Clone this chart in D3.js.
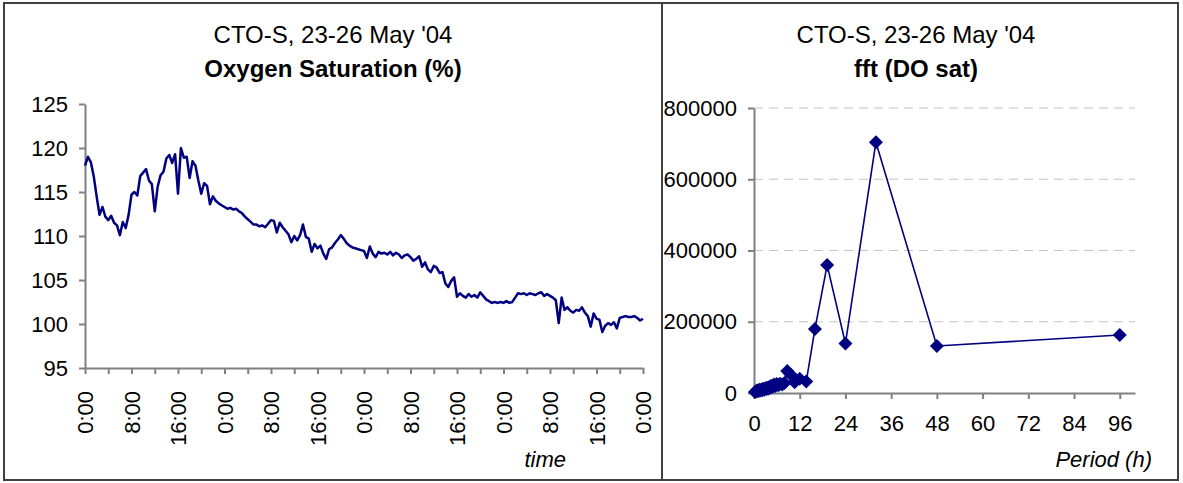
<!DOCTYPE html>
<html>
<head>
<meta charset="utf-8">
<title>CTO-S Oxygen Saturation</title>
<script src="https://d3js.org/d3.v7.min.js"></script>
<style>
  body { margin: 0; background: #fff; }
  svg { display: block; font-family: "Liberation Sans", Arial, sans-serif; }
  .axis path, .axis line { stroke: #808080; stroke-width: 2; }
  .axis text { fill: #000; font-size: 22px; font-family: "Liberation Sans", Arial, sans-serif; }
</style>
</head>
<body>
<svg width="1183" height="483"></svg>
<script>
// ---- data: left chart (DO saturation every 0.5 h over 96 h) ----
var timeStepH = 0.5;
var doSat = [
  118.0,119.0,118.4,116.8,114.5,112.4,113.3,112.2,111.8,112.3,
  111.5,111.2,110.1,111.6,110.9,112.4,114.7,115.0,114.6,116.8,
  117.2,117.6,116.3,115.9,112.8,115.6,116.9,117.3,118.8,119.2,
  118.3,119.3,114.8,120.0,118.9,119.0,116.6,118.5,118.0,116.3,
  114.8,116.0,115.7,113.6,114.5,114.0,113.7,113.5,113.3,113.1,
  113.2,113.0,113.1,112.8,112.6,112.2,111.9,111.6,111.3,111.3,
  111.1,111.2,111.0,111.4,111.8,111.7,110.4,111.5,111.0,110.6,
  110.2,109.3,110.0,109.5,110.1,111.3,109.9,109.7,108.2,109.1,
  108.6,108.9,108.0,107.4,108.5,108.7,109.2,109.6,110.1,109.7,
  109.2,108.9,108.7,108.6,108.5,108.4,108.3,107.5,108.8,108.0,
  107.6,108.2,108.0,108.1,107.9,108.2,107.8,108.1,107.9,107.5,
  107.8,107.9,107.6,107.2,107.4,107.7,106.5,107.0,106.2,105.9,
  106.6,106.4,105.8,105.9,104.6,104.2,104.9,105.3,103.1,103.5,
  103.2,103.0,103.4,103.1,103.3,103.0,103.6,103.2,102.8,102.6,
  102.4,102.5,102.4,102.5,102.4,102.6,102.4,102.5,103.0,103.5,
  103.4,103.5,103.3,103.5,103.4,103.3,103.5,103.6,103.2,103.4,
  103.2,103.0,102.7,100.1,103.0,101.6,101.9,101.5,101.3,101.6,
  101.5,101.9,101.3,100.9,99.7,101.2,100.6,100.5,99.1,99.8,
  100.1,99.9,100.2,99.5,100.7,100.8,100.9,100.8,100.8,100.9,
  100.7,100.4,100.6
];
var yTicksLeft = [95, 100, 105, 110, 115, 120, 125];
var xTicksLeft = [0,4,8,12,16,20,24,28,32,36,40,44,48,52,56,60,64,68,72,76,80,84,88,92,96];
var xTickLabelsLeft = ["0:00","8:00","16:00","0:00","8:00","16:00","0:00","8:00","16:00","0:00","8:00","16:00","0:00"];

// ---- data: right chart (fft of DO sat) ----
var periods = [96,48,32,24,19.2,16,13.71,12,10.67,9.6,8.73,8,7.38,6.86,6.4,6,5.65,5.33,5.05,4.8,
               4.57,4.36,4.17,4,3.69,3.43,3.2,3,2.67,2.4,2.18,2,1.71,1.5,1.33,1.2,1,0.75,0.5,0.25];
var fftVals = [163000,132000,704000,139000,359000,180000,32000,40000,30000,52000,62000,28000,24000,26000,22000,25000,20000,24000,18000,21000,
               16000,19000,14000,17000,12000,15000,11000,13000,9000,12000,8000,10000,7000,9000,6000,8000,5000,7000,4000,3000];
var yTicksRight = [0, 200000, 400000, 600000, 800000];
var xTicksRight = [0, 12, 24, 36, 48, 60, 72, 84, 96];

var navy = "#000080";
var svg = d3.select("svg");

// ================= right panel =================
svg.append("clipPath").attr("id", "clipR")
  .append("rect").attr("x", 663).attr("y", 0).attr("width", 520).attr("height", 483);
var gR = svg.append("g").attr("clip-path", "url(#clipR)");

var xR = d3.scaleLinear().domain([0, 100]).range([754, 1135]);
var yR = d3.scaleLinear().domain([0, 800000]).range([393, 108]);

gR.append("g").selectAll("line")
  .data(yTicksRight.filter(d => d > 0))
  .enter().append("line")
  .attr("x1", xR(0)).attr("x2", xR(100))
  .attr("y1", d => yR(d)).attr("y2", d => yR(d))
  .attr("stroke", "#c4c4c4").attr("stroke-width", 1.2)
  .attr("stroke-dasharray", "9,6");

gR.append("g").attr("class", "axis")
  .attr("transform", "translate(" + xR(0) + ",0)")
  .call(d3.axisLeft(yR).tickValues(yTicksRight).tickFormat(d3.format("d")).tickSize(6).tickPadding(11).tickSizeOuter(0));

gR.append("g").attr("class", "axis")
  .attr("transform", "translate(0," + yR(0) + ")")
  .call(d3.axisBottom(xR).tickValues(xTicksRight).tickSize(6).tickPadding(16).tickSizeOuter(0));

var fft = periods.map((p, i) => ({p: p, v: fftVals[i]}));
gR.append("path")
  .datum(fft)
  .attr("fill", "none").attr("stroke", navy).attr("stroke-width", 1.6)
  .attr("d", d3.line().x(d => xR(d.p)).y(d => yR(d.v)));

gR.append("g").selectAll("path")
  .data(fft).enter().append("path")
  .attr("transform", d => "translate(" + xR(d.p) + "," + yR(d.v) + ")")
  .attr("d", "M0,-7L7,0L0,7L-7,0Z")
  .attr("fill", navy);

gR.append("text").attr("x", 916).attr("y", 43).attr("text-anchor", "middle")
  .style("font-size", "24px").text("CTO-S, 23-26 May '04");
gR.append("text").attr("x", 916).attr("y", 77).attr("text-anchor", "middle")
  .style("font-size", "24px").style("font-weight", "bold").text("fft (DO sat)");
gR.append("text").attr("x", 1152).attr("y", 467).attr("text-anchor", "end")
  .style("font-size", "22px").style("font-style", "italic").text("Period (h)");

// ================= left panel =================
var xL = d3.scaleLinear().domain([0, 96]).range([85, 643]);
var yL = d3.scaleLinear().domain([95, 125]).range([368, 104]);

svg.append("g").attr("class", "axis")
  .attr("transform", "translate(" + xL(0) + ",0)")
  .call(d3.axisLeft(yL).tickValues(yTicksLeft).tickSize(6).tickPadding(11).tickSizeOuter(0));

var xAxisL = svg.append("g").attr("class", "axis")
  .attr("transform", "translate(0," + yL(95) + ")")
  .call(d3.axisBottom(xL).tickValues(xTicksLeft).tickSize(6).tickSizeOuter(0)
    .tickFormat((d, i) => i % 2 === 0 ? xTickLabelsLeft[i / 2] : ""));
xAxisL.selectAll("text")
  .attr("transform", "rotate(-90)")
  .attr("x", -23).attr("y", 0).attr("dy", "0.35em")
  .attr("text-anchor", "end");

svg.append("path")
  .datum(doSat)
  .attr("fill", "none").attr("stroke", navy).attr("stroke-width", 2.5)
  .attr("stroke-linejoin", "round")
  .attr("d", d3.line().x((d, i) => xL(i * timeStepH)).y(d => yL(d)));

svg.append("text").attr("x", 333).attr("y", 43).attr("text-anchor", "middle")
  .style("font-size", "24px").text("CTO-S, 23-26 May '04");
svg.append("text").attr("x", 333).attr("y", 77).attr("text-anchor", "middle")
  .style("font-size", "24px").style("font-weight", "bold").text("Oxygen Saturation (%)");
svg.append("text").attr("x", 566).attr("y", 467).attr("text-anchor", "end")
  .style("font-size", "22px").style("font-style", "italic").text("time");

// ================= frames =================
svg.append("rect").attr("x", 4).attr("y", 3).attr("width", 658).attr("height", 477)
  .attr("fill", "none").attr("stroke", "#404040").attr("stroke-width", 2);
svg.append("rect").attr("x", 662).attr("y", 3).attr("width", 516).attr("height", 477)
  .attr("fill", "none").attr("stroke", "#404040").attr("stroke-width", 2);
</script>
</body>
</html>
